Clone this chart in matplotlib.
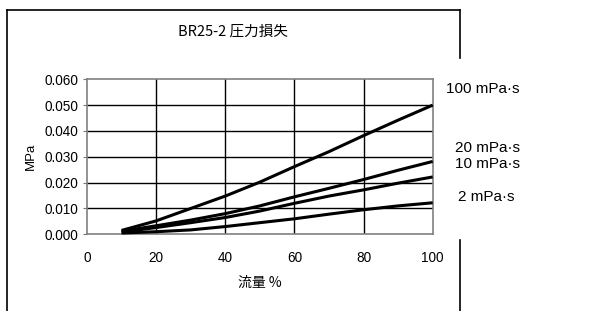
import matplotlib
matplotlib.use("Agg")
import matplotlib.pyplot as plt
from matplotlib.lines import Line2D

plt.rcParams['font.family'] = ['Liberation Sans', 'Noto Sans CJK JP', 'DejaVu Sans']

flow = [10, 20, 30, 40, 50, 60, 70, 80, 90, 100]
visc_labels = ["100 mPa·s", "20 mPa·s", "10 mPa·s", "2 mPa·s"]
p100 = [0.0015, 0.0052, 0.0100, 0.0148, 0.0202, 0.0262, 0.0320, 0.0382, 0.0442, 0.0500]
p20 = [0.0012, 0.0033, 0.0055, 0.0080, 0.0110, 0.0145, 0.0178, 0.0212, 0.0248, 0.0282]
p10 = [0.0009, 0.0026, 0.0045, 0.0065, 0.0090, 0.0120, 0.0148, 0.0172, 0.0198, 0.0222]
p2 = [0.0005, 0.0010, 0.0017, 0.0030, 0.0045, 0.0060, 0.0078, 0.0095, 0.0110, 0.0122]
series = [p100, p20, p10, p2]
label_y = [0.0563, 0.0333, 0.0271, 0.0143]

xticks = [0, 20, 40, 60, 80, 100]
yticks = [0.0, 0.01, 0.02, 0.03, 0.04, 0.05, 0.06]

W, H = 614, 311
fig = plt.figure(figsize=(W / 100, H / 100), dpi=100)
ax = fig.add_axes([87 / W, 1 - 234.3 / H, (432.7 - 87) / W, (234.3 - 79.3) / H])

for s in series:
    ax.plot(flow, s, color='black', lw=2.2, solid_capstyle='butt', zorder=3, clip_on=False)

ax.set_xlim(0, 100)
ax.set_ylim(0, 0.06)
ax.set_yticks(yticks)
ax.set_yticklabels([f"{v:.3f}" for v in yticks], fontsize=9.8)
ax.set_xticks(xticks)
ax.set_xticklabels([str(v) for v in xticks], fontsize=9.8)
ax.tick_params(axis='x', length=0, pad=12)
ax.tick_params(axis='y', length=3, color='#777777', direction='out', pad=3)
for v in yticks[1:-1]:
    ax.axhline(v, color='black', lw=1.0, zorder=1)
for v in xticks[1:-1]:
    ax.axvline(v, color='black', lw=1.0, zorder=1)
for sp in ax.spines.values():
    sp.set_color('#808080')
    sp.set_linewidth(1.2)

ax.set_ylabel("MPa", fontsize=9.5, labelpad=6)
ax.set_xlabel("流量 %", fontsize=10, labelpad=8, family=['Noto Sans CJK JP', 'DejaVu Sans'])
fig.text(233 / W, 1 - 32 / H, "BR25-2 圧力損失", ha='center', va='center', fontsize=10.5,
         family=['Noto Sans CJK JP', 'DejaVu Sans'])

label_x = [520, 520, 520, 515]
for lab, yv, xp in zip(visc_labels, label_y, label_x):
    fig.text(xp / W, 1 - (234.3 - yv / 0.06 * 155) / H, lab, ha='right', va='center',
             fontsize=11, family=['Liberation Sans', 'DejaVu Sans'])

# outer frame
def fl(x0, y0, x1, y1):
    fig.add_artist(Line2D([x0 / W, x1 / W], [1 - y0 / H, 1 - y1 / H], color='black', lw=1.2))
fl(6.5, 10, 460, 10)
fl(6.5, 10, 6.5, 311)
fl(460, 10, 460, 58)
fl(460, 240, 460, 311)

fig.savefig("out.png", dpi=100)
